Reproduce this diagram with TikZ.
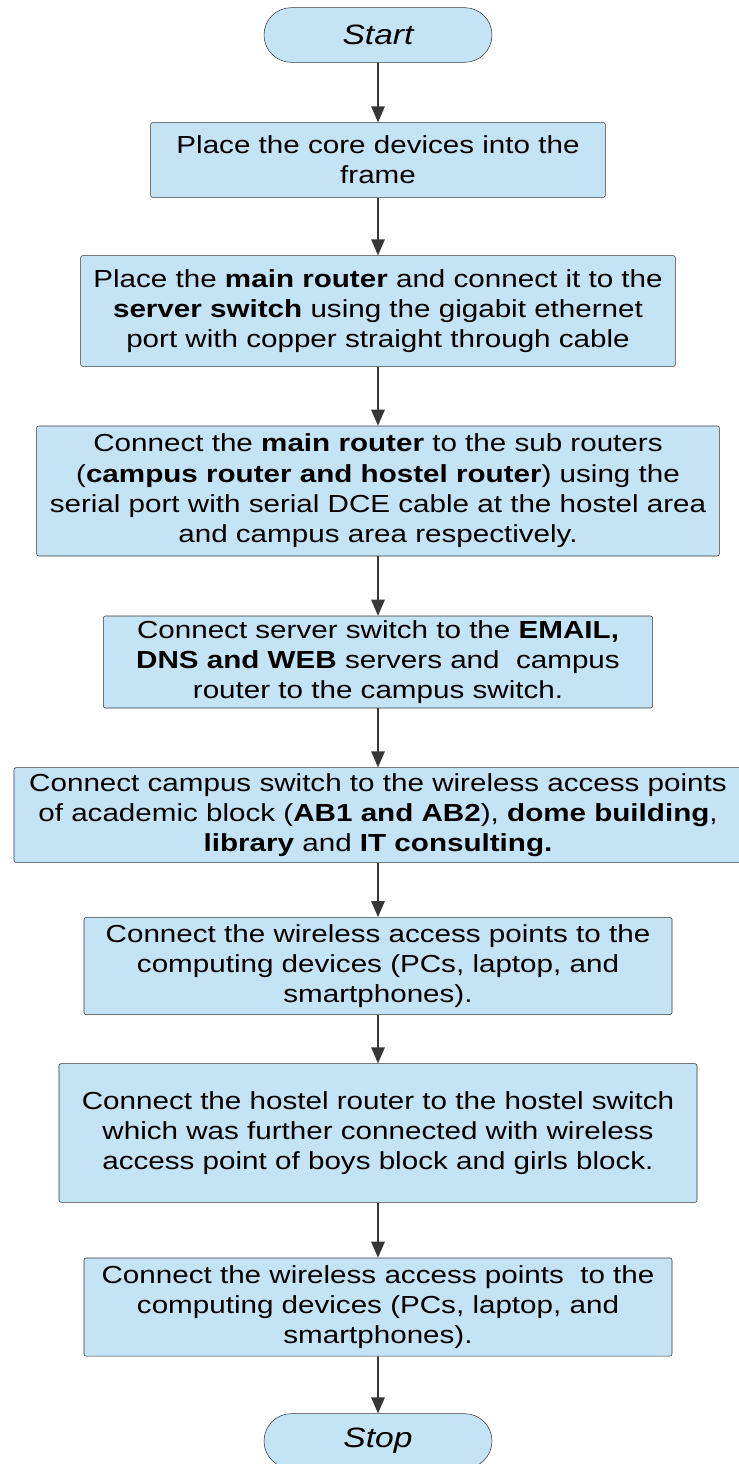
\documentclass[tikz,border=0pt]{standalone}
\usepackage{fontspec}
\setmainfont{Liberation Sans}[FakeStretch=1.2]
\usetikzlibrary{arrows.meta}
\usetikzlibrary{shapes.misc}
\definecolor{boxblue}{RGB}{196,227,245}
\definecolor{edgegray}{RGB}{55,55,55}
\tikzset{procbox/.style={draw=edgegray,fill=boxblue,rounded corners=1.5pt,
    align=center,inner sep=0pt,font=\fontsize{18.5}{22.7}\selectfont}}
\tikzset{termbox/.style={draw=edgegray,fill=boxblue,rounded rectangle,
    inner sep=0pt,minimum width=171pt,minimum height=41pt,
    font=\fontsize{21}{24}\selectfont\itshape}}
\tikzset{arrow/.style={-{Triangle[length=12pt,width=10pt]},draw=edgegray,
    line width=1.4pt}}

\begin{document}
\begin{tikzpicture}[x=0.75pt,y=-0.75pt]
        \useasboundingbox (0,0) rectangle (739,1464);

        \node[termbox] (sta) at (378,35) {Start};
        \node[procbox,minimum width=341pt,minimum height=56pt] (crd) at (378,160)
            {Place the core devices into the\\
                frame};
        \node[procbox,minimum width=446pt,minimum height=83pt] (mrt) at (378,311)
            {Place the \textbf{main router} and connect it to the\\
                \textbf{server switch} using the gigabit ethernet\\
                port with copper straight through cable};
        \node[procbox,minimum width=512pt,minimum height=97.5pt] (srt) at (378,491)
            {Connect the \textbf{main router} to the sub routers\\
                (\textbf{campus router and hostel router}) using the\\
                serial port with serial DCE cable at the hostel area\\
                and campus area respectively.};
        \node[procbox,minimum width=412pt,minimum height=69pt] (svs) at (378,662)
            {Connect server switch to the \textbf{EMAIL,}\\
                \textbf{DNS and WEB} servers and\ \ campus\\
                router to the campus switch.};
        \node[procbox,minimum width=546pt,minimum height=71pt] (cps) at (378,815)
            {Connect campus switch to the wireless access points\\
                of academic block (\textbf{AB1 and AB2}), \textbf{dome building},\\
                \textbf{library} and \textbf{IT consulting.}};
        \node[procbox,minimum width=441pt,minimum height=73pt] (cdv) at (378,966)
            {Connect the wireless access points to the\\
                computing devices (PCs, laptop, and\\
                smartphones).};
        \node[procbox,minimum width=478.5pt,minimum height=104pt] (hrt) at (378,1133)
            {Connect the hostel router to the hostel switch\\
                which was further connected with wireless\\
                access point of boys block and girls block.};
        \node[procbox,minimum width=441pt,minimum height=73.5pt] (hdv) at (378,1307)
            {Connect the wireless access points\ \ to the\\
                computing devices (PCs, laptop, and\\
                smartphones).};
        \node[termbox] (stp) at (378,1441) {Stop};

        \draw[arrow] (sta) -- (crd);
        \draw[arrow] (crd) -- (mrt);
        \draw[arrow] (mrt) -- (srt);
        \draw[arrow] (srt) -- (svs);
        \draw[arrow] (svs) -- (cps);
        \draw[arrow] (cps) -- (cdv);
        \draw[arrow] (cdv) -- (hrt);
        \draw[arrow] (hrt) -- (hdv);
        \draw[arrow] (hdv) -- (stp);
    \end{tikzpicture}
\end{document}
